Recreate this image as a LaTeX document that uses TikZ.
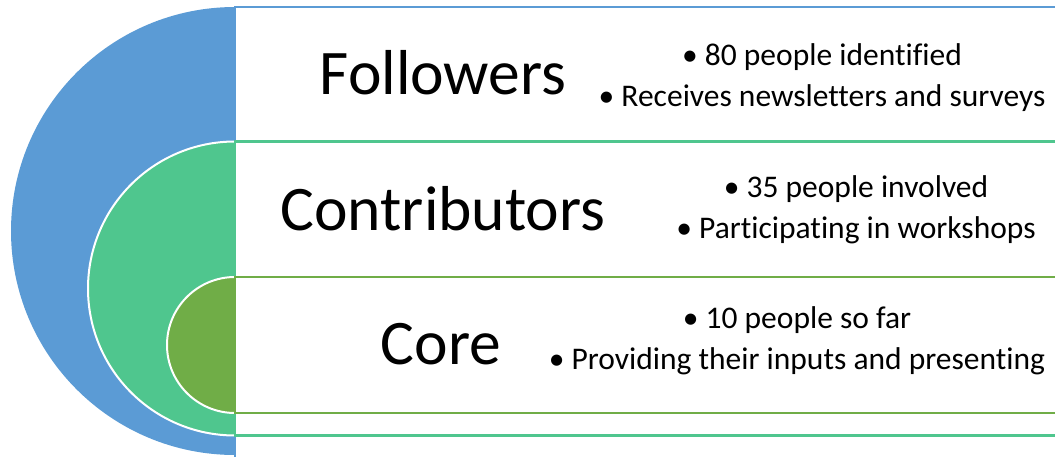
\documentclass[tikz,border=0pt]{standalone}
\usepackage{fontspec}
\setmainfont{Carlito}[Ligatures=NoCommon]
\definecolor{folblue}{HTML}{5B9BD5}
\definecolor{congreen}{HTML}{4FC68E}
\definecolor{coreolive}{HTML}{70AD47}
\begin{document}
\begin{tikzpicture}[x=1pt,y=1pt,
	bigtxt/.style={font=\fontsize{63.5}{70}\selectfont},
	listtxt/.style={font=\fontsize{31.5}{41}\selectfont,align=center},
	layerbox/.style={line width=2.2pt,fill=white}]
	\def\mycx{235}\def\myright{1070}
	\useasboundingbox (0,0) rectangle (1055,456);
	% half discs
	\fill[folblue] (\mycx,449) arc[start angle=90,end angle=270,radius=224] -- cycle;
	\fill[congreen] (\mycx,314.5) arc[start angle=90,end angle=270,radius=147] -- cycle;
	\draw[white,line width=2pt] (\mycx,314.5) arc[start angle=90,end angle=270,radius=147];
	\fill[coreolive] (\mycx,179) arc[start angle=90,end angle=270,radius=68] -- cycle;
	\draw[white,line width=2pt] (\mycx,179) arc[start angle=90,end angle=270,radius=68];
	% boxes
	\draw[layerbox,draw=folblue] (\mycx,-6) rectangle (\myright,449);
	\draw[layerbox,draw=congreen] (\mycx,20.5) rectangle (\myright,314.5);
	\draw[layerbox,draw=coreolive] (\mycx,43) rectangle (\myright,179);
	% labels
	\node[bigtxt] (folname) at (443,383) {Followers};
	\node[bigtxt] (conname) at (443,247) {Contributors};
	\node[bigtxt] (corename) at (441,112) {Core};
	\node[listtxt] (follist) at (822,378) {\textbullet\ 80 people identified\\\textbullet\ Receives newsletters and surveys};
	\node[listtxt] (conlist) at (856,246) {\textbullet\ 35 people involved\\\textbullet\ Participating in workshops};
	\node[listtxt] (corelist) at (797,115) {\textbullet\ 10 people so far\\\textbullet\ Providing their inputs and presenting};
\end{tikzpicture}
\end{document}
